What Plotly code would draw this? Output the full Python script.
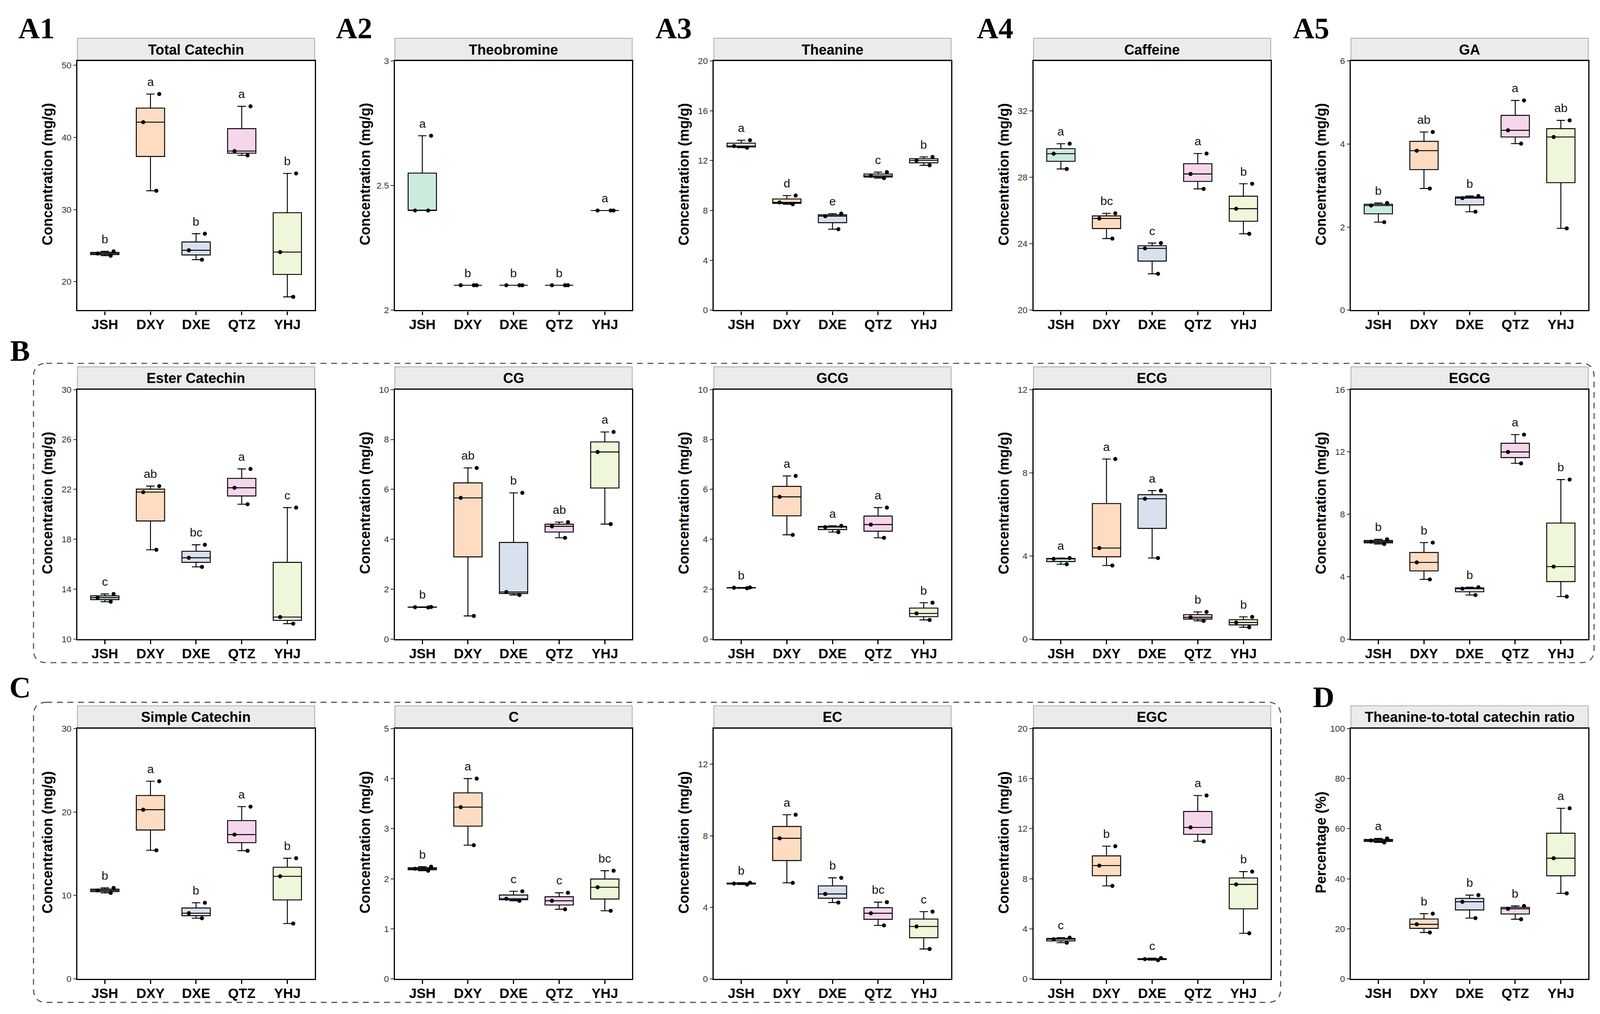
import plotly.graph_objects as go

# geometry is taken from the 4359x2597 reference; the page is rendered a bit narrower
REF_W, REF_H = 4359, 2597
W, H = 4086, 2588
F = 0.95  # size factor for fonts / lines

groups = ["JSH", "DXY", "DXE", "QTZ", "YHJ"]
colors = ["#CBEBDD", "#FDDCC2", "#D9E0EE", "#F6D6EC", "#EEF7D9"]

# three replicates per group
total_catechin = [[23.6, 23.9, 24.2], [32.6, 42.1, 46.0], [23.05, 24.35, 26.65], [37.5, 38.1, 44.3], [17.9, 24.1, 35.0]]
theobromine = [[2.4, 2.4, 2.7], [2.1, 2.1, 2.1], [2.1, 2.1, 2.1], [2.1, 2.1, 2.1], [2.4, 2.4, 2.4]]
theanine = [[13.04, 13.17, 13.64], [8.5, 8.65, 9.2], [6.5, 7.55, 7.75], [10.6, 10.78, 11.08], [11.63, 12.02, 12.3]]
caffeine = [[28.5, 29.42, 30.02], [24.31, 25.52, 25.83], [22.19, 23.72, 24.04], [27.3, 28.2, 29.43], [24.6, 26.11, 27.61]]
ga = [[2.12, 2.52, 2.58], [2.93, 3.84, 4.29], [2.37, 2.70, 2.75], [4.01, 4.33, 5.05], [1.97, 4.17, 4.57]]
ester_catechin = [[13.0, 13.33, 13.62], [17.16, 21.78, 22.26], [15.79, 16.52, 17.56], [20.81, 22.13, 23.64], [11.24, 11.77, 20.54]]
cg = [[1.27, 1.28, 1.29], [0.93, 5.66, 6.86], [1.77, 1.89, 5.86], [4.06, 4.52, 4.69], [4.61, 7.50, 8.30]]
gcg = [[2.04, 2.06, 2.07], [4.18, 5.70, 6.54], [4.29, 4.49, 4.54], [4.06, 4.59, 5.27], [0.77, 1.03, 1.46]]
ecg = [[3.6, 3.86, 3.9], [3.54, 4.38, 8.66], [3.90, 6.75, 7.14], [0.88, 1.05, 1.31], [0.57, 0.80, 1.07]]
egcg = [[6.1, 6.25, 6.4], [3.83, 4.92, 6.19], [2.83, 3.24, 3.33], [11.27, 12.0, 13.11], [2.73, 4.65, 10.23]]
simple_catechin = [[10.3, 10.6, 10.9], [15.41, 20.27, 23.68], [7.27, 7.87, 9.12], [15.36, 17.29, 20.64], [6.63, 12.29, 14.46]]
c_cat = [[2.16, 2.2, 2.24], [2.67, 3.43, 4.0], [1.56, 1.60, 1.75], [1.39, 1.56, 1.72], [1.36, 1.83, 2.16]]
ec = [[5.28, 5.33, 5.38], [5.37, 7.86, 9.18], [4.27, 4.75, 5.65], [2.99, 3.67, 4.29], [1.67, 2.93, 3.76]]
egc = [[2.89, 3.17, 3.29], [7.43, 9.05, 10.6], [1.5, 1.58, 1.66], [10.99, 12.1, 14.65], [3.64, 7.55, 8.57]]
ratio = [[54.5, 55.3, 56.1], [18.53, 21.8, 26.04], [24.27, 30.8, 33.45], [23.83, 28.0, 29.13], [34.16, 48.2, 68.14]]

# significance letters
total_catechin_sig = ["b", "a", "b", "a", "b"]
theobromine_sig = ["a", "b", "b", "b", "a"]
theanine_sig = ["a", "d", "e", "c", "b"]
caffeine_sig = ["a", "bc", "c", "a", "b"]
ga_sig = ["b", "ab", "b", "a", "ab"]
ester_catechin_sig = ["c", "ab", "bc", "a", "c"]
cg_sig = ["b", "ab", "b", "ab", "a"]
gcg_sig = ["b", "a", "a", "a", "b"]
ecg_sig = ["a", "a", "a", "b", "b"]
egcg_sig = ["b", "b", "b", "a", "b"]
simple_catechin_sig = ["b", "a", "b", "a", "b"]
c_sig = ["b", "a", "c", "c", "bc"]
ec_sig = ["b", "a", "b", "bc", "c"]
egc_sig = ["c", "b", "c", "a", "b"]
ratio_sig = ["a", "b", "b", "b", "a"]

# (title, data, letters, y range, first tick, tick step, y title)
panels = [
    ("Total Catechin", total_catechin, total_catechin_sig, [16.05, 50.58], 20, 10, "Concentration (mg/g)"),
    ("Theobromine", theobromine, theobromine_sig, [2, 3], 2, 0.5, "Concentration (mg/g)"),
    ("Theanine", theanine, theanine_sig, [0, 20], 0, 4, "Concentration (mg/g)"),
    ("Caffeine", caffeine, caffeine_sig, [20, 35], 20, 4, "Concentration (mg/g)"),
    ("GA", ga, ga_sig, [0, 6], 0, 2, "Concentration (mg/g)"),
    ("Ester Catechin", ester_catechin, ester_catechin_sig, [10, 30], 10, 4, "Concentration (mg/g)"),
    ("CG", cg, cg_sig, [0, 10], 0, 2, "Concentration (mg/g)"),
    ("GCG", gcg, gcg_sig, [0, 10], 0, 2, "Concentration (mg/g)"),
    ("ECG", ecg, ecg_sig, [0, 12], 0, 4, "Concentration (mg/g)"),
    ("EGCG", egcg, egcg_sig, [0, 16], 0, 4, "Concentration (mg/g)"),
    ("Simple Catechin", simple_catechin, simple_catechin_sig, [0, 30], 0, 10, "Concentration (mg/g)"),
    ("C", c_cat, c_sig, [0, 5], 0, 1, "Concentration (mg/g)"),
    ("EC", ec, ec_sig, [0, 14], 0, 4, "Concentration (mg/g)"),
    ("EGC", egc, egc_sig, [0, 20], 0, 4, "Concentration (mg/g)"),
    ("Theanine-to-total catechin ratio", ratio, ratio_sig, [0, 100], 0, 20, "Percentage (%)"),
]

# layout in reference pixels
col_left = [203, 1070, 1941, 2814, 3681]
row_span = [(137, 784), (990, 1638), (1870, 2520)]
PW = 648
STRIP = 59


def px(x):
    return x / REF_W


def py(y):
    return 1 - y / REF_H


fig = go.Figure()
shapes = []
annotations = []

for k, (title, data, sig, yr, t0, dt, ytitle) in enumerate(panels):
    r, c = divmod(k, 5)
    n = k + 1
    left = col_left[c]
    top, bottom = row_span[r]
    xa = "x" if n == 1 else f"x{n}"
    ya = "y" if n == 1 else f"y{n}"

    for i, g in enumerate(groups):
        fig.add_trace(go.Box(
            x=[i] * len(data[i]), y=data[i], xaxis=xa, yaxis=ya,
            width=0.62, fillcolor=colors[i],
            line=dict(color="black", width=2.5 * F), whiskerwidth=0.3,
            boxpoints="all", jitter=0.8, pointpos=0,
            marker=dict(color="black", size=11 * F),
            quartilemethod="inclusive", showlegend=False, hoverinfo="skip",
        ))
        span = yr[1] - yr[0]
        annotations.append(dict(
            x=i, y=max(data[i]) + 0.05 * span, xref=xa, yref=ya,
            text=sig[i], showarrow=False, yanchor="middle",
            font=dict(size=32 * F, color="#111111"),
        ))

    fig.layout[f"xaxis{n}" if n > 1 else "xaxis"] = dict(
        domain=[px(left), px(left + PW)], anchor=ya,
        range=[-0.6, 4.6], tickvals=list(range(5)), ticktext=groups,
        showline=True, linewidth=3.4 * F, linecolor="black", mirror=True,
        ticks="outside", ticklen=10 * F, tickwidth=3 * F, tickcolor="black",
        ticklabelstandoff=-6,
        tickfont=dict(size=37 * F, color="black", weight="bold"),
        showgrid=False, zeroline=False, fixedrange=True,
    )
    fig.layout[f"yaxis{n}" if n > 1 else "yaxis"] = dict(
        domain=[py(bottom), py(top)], anchor=xa,
        range=yr, tick0=t0, dtick=dt,
        showline=True, linewidth=3.4 * F, linecolor="black", mirror=True,
        ticks="outside", ticklen=8 * F, tickwidth=2.5 * F, tickcolor="#333333",
        tickfont=dict(size=24 * F, color="#333333"),
        showgrid=False, zeroline=False, fixedrange=True,
    )

    # facet strip
    shapes.append(dict(
        type="rect", xref="paper", yref="paper", layer="below",
        x0=px(left), x1=px(left + PW), y0=py(top), y1=py(top - STRIP),
        fillcolor="#EBEBEB", line=dict(color="#A8A8A8", width=2 * F),
    ))
    annotations.append(dict(
        x=px(left + PW / 2), y=py(top - STRIP / 2), xref="paper", yref="paper",
        text=title, showarrow=False, xanchor="center", yanchor="middle",
        font=dict(size=38 * F, color="black", weight="bold"),
    ))
    # y axis title
    annotations.append(dict(
        x=px(left - 82), y=py((top - STRIP + bottom) / 2), xref="paper", yref="paper",
        text=ytitle, showarrow=False, textangle=-90, xanchor="center", yanchor="middle",
        font=dict(size=38 * F, color="black", weight="bold"),
    ))


def rounded_box(x0, y0, x1, y1, r):
    pts = [
        ("M", [(x0 + r, y0)]), ("L", [(x1 - r, y0)]), ("Q", [(x1, y0), (x1, y0 + r)]),
        ("L", [(x1, y1 - r)]), ("Q", [(x1, y1), (x1 - r, y1)]), ("L", [(x0 + r, y1)]),
        ("Q", [(x0, y1), (x0, y1 - r)]), ("L", [(x0, y0 + r)]), ("Q", [(x0, y0), (x0 + r, y0)]),
    ]
    path = ""
    for cmd, pp in pts:
        path += cmd + " " + " ".join(f"{px(a):.5f},{py(b):.5f}" for a, b in pp) + " "
    return dict(type="path", path=path + "Z", xref="paper", yref="paper", layer="below",
                line=dict(color="#555555", width=3 * F, dash="15px,12px"))


shapes.append(rounded_box(83, 922, 4345, 1699, 35))
shapes.append(rounded_box(83, 1802, 3489, 2581, 35))

# panel letters
panel_tags = [("A1", 40, 52), ("A2", 907, 52), ("A3", 1779, 52), ("A4", 2657, 52), ("A5", 3520, 52),
              ("B", 17, 889), ("C", 15, 1763), ("D", 3575, 1788)]
for tag, tx, ty in panel_tags:
    annotations.append(dict(
        x=px(tx), y=py(ty), xref="paper", yref="paper", text=tag, showarrow=False,
        xanchor="left", yanchor="middle",
        font=dict(family="Liberation Serif", size=80 * F, color="black", weight="bold"),
    ))

fig.update_layout(
    width=W, height=H, margin=dict(l=0, r=0, t=0, b=0),
    paper_bgcolor="white", plot_bgcolor="white",
    font=dict(family="Liberation Sans", color="black"),
    boxmode="overlay", showlegend=False,
    shapes=shapes, annotations=annotations,
)

fig.write_html("out.html")
